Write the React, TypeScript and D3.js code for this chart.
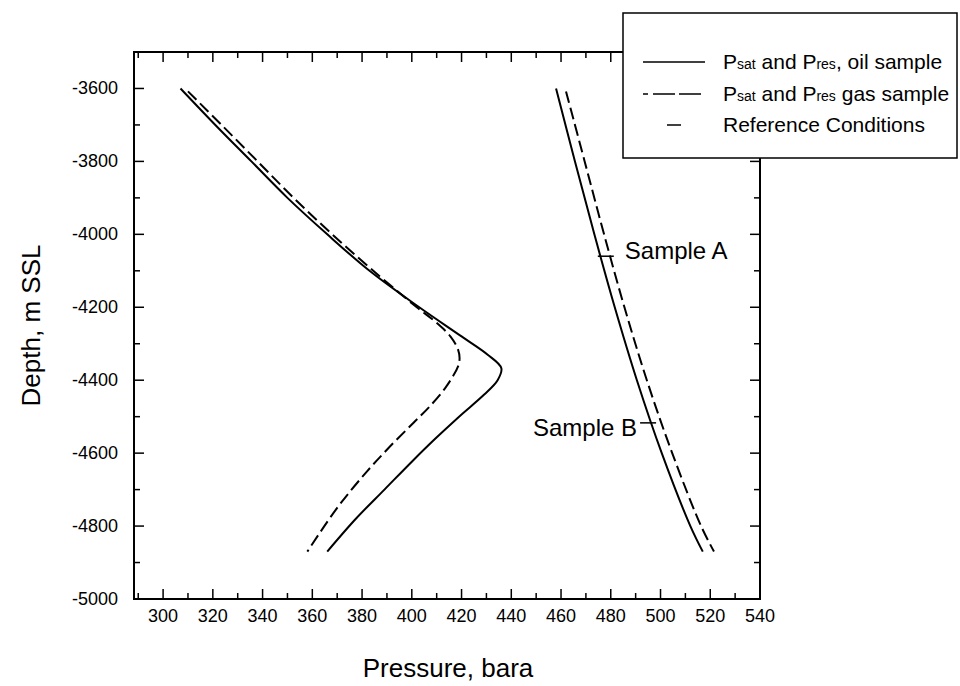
import React from "react";
import * as d3 from "d3";

// ---- Data ----
const oilSatDepth = [-3600, -3700, -3800, -3900, -4000, -4100, -4200, -4280, -4330, -4367, -4400, -4440, -4500, -4560, -4620, -4700, -4780, -4870];
const oilSatPressure = [307, 321, 335.5, 350, 366, 383, 403, 420, 430.5, 436, 434.5, 429, 419, 409.5, 400.5, 389, 377.5, 366];

const gasSatDepth = [-3608, -3700, -3800, -3900, -4000, -4100, -4200, -4240, -4280, -4316, -4340, -4362, -4417, -4472, -4518, -4582, -4650, -4750, -4870];
const gasSatPressure = [310, 323.5, 338, 352.5, 368, 384.5, 402, 409.5, 415.5, 418.6, 419.2, 418.6, 413.9, 407.2, 400.5, 391.2, 382, 370, 358];

const oilResDepth = [-3600, -3800, -4000, -4200, -4400, -4600, -4800, -4870];
const oilResPressure = [458, 465.6, 473.4, 481.6, 490.5, 500.5, 512, 517];

const gasResDepth = [-3608, -3800, -4000, -4200, -4400, -4600, -4800, -4870];
const gasResPressure = [462, 469.5, 477.3, 485.5, 494.5, 504.7, 516.3, 521.5];

const refNames = ["Sample A", "Sample B"];
const refPressure = [478, 495];
const refDepth = [-4060, -4517];

const xMajorTicks = [300, 320, 340, 360, 380, 400, 420, 440, 460, 480, 500, 520, 540];
const yMajorTicks = [-5000, -4800, -4600, -4400, -4200, -4000, -3800, -3600];

const W = 960, H = 686;
const L = 134, R = 760, T = 52, B = 599;
const FONT = "'Liberation Sans', Arial, Helvetica, sans-serif";

export default function App() {
  const x = d3.scaleLinear().domain([288.3, 540]).range([L, R]);
  const y = d3.scaleLinear().domain([-5000, -3500]).range([B, T]);

  const line = d3
    .line<[number, number]>()
    .x((d) => x(d[0]))
    .y((d) => y(d[1]))
    .curve(d3.curveCatmullRom.alpha(0.5));

  const zip = (p: number[], dd: number[]) => p.map((v, i) => [v, dd[i]] as [number, number]);

  const xMinor = d3.range(290, 540, 10).filter((v) => v % 20 !== 0);
  const yMinor = d3.range(-4900, -3499, 200);

  const majLen = 10, minLen = 6;

  return (
    <svg width={W} height={H} style={{ position: "absolute", left: 0, top: 0, background: "#fff" }} fontFamily={FONT}>
      <rect x={0} y={0} width={W} height={H} fill="#fff" />
      {/* frame */}
      <rect x={L} y={T} width={R - L} height={B - T} fill="none" stroke="#000" strokeWidth={2} />
      {/* x ticks */}
      {xMajorTicks.map((t) => (
        <g key={"xm" + t}>
          <line x1={x(t)} x2={x(t)} y1={B} y2={B - majLen} stroke="#000" strokeWidth={1.5} />
          <line x1={x(t)} x2={x(t)} y1={T} y2={T + majLen} stroke="#000" strokeWidth={1.5} />
          <text x={x(t)} y={622} fontSize={18} textAnchor="middle">{t}</text>
        </g>
      ))}
      {xMinor.map((t) => (
        <g key={"xn" + t}>
          <line x1={x(t)} x2={x(t)} y1={B} y2={B - minLen} stroke="#000" strokeWidth={1.5} />
          <line x1={x(t)} x2={x(t)} y1={T} y2={T + minLen} stroke="#000" strokeWidth={1.5} />
        </g>
      ))}
      {/* y ticks */}
      {yMajorTicks.map((t) => (
        <g key={"ym" + t}>
          <line x1={L} x2={L + majLen} y1={y(t)} y2={y(t)} stroke="#000" strokeWidth={1.5} />
          <line x1={R} x2={R - majLen} y1={y(t)} y2={y(t)} stroke="#000" strokeWidth={1.5} />
          <text x={118} y={y(t) + 6} fontSize={18} textAnchor="end">{t}</text>
        </g>
      ))}
      {yMinor.map((t) => (
        <g key={"yn" + t}>
          <line x1={L} x2={L + minLen} y1={y(t)} y2={y(t)} stroke="#000" strokeWidth={1.5} />
          <line x1={R} x2={R - minLen} y1={y(t)} y2={y(t)} stroke="#000" strokeWidth={1.5} />
        </g>
      ))}

      {/* curves */}
      <path d={line(zip(oilSatPressure, oilSatDepth)) || ""} fill="none" stroke="#000" strokeWidth={2} />
      <path d={line(zip(gasSatPressure, gasSatDepth)) || ""} fill="none" stroke="#000" strokeWidth={2} strokeDasharray="12,5" />
      <path d={line(zip(oilResPressure, oilResDepth)) || ""} fill="none" stroke="#000" strokeWidth={2} />
      <path d={line(zip(gasResPressure, gasResDepth)) || ""} fill="none" stroke="#000" strokeWidth={2} strokeDasharray="12,5" />

      {/* reference conditions */}
      {refNames.map((n, i) => {
        const cx = x(refPressure[i]);
        const cy = y(refDepth[i]);
        const half = 8;
        return (
          <g key={n}>
            <line x1={cx - half} x2={cx + half} y1={cy} y2={cy} stroke="#000" strokeWidth={1.5} />
            {i === 0 ? (
              <text x={cx + half + 11} y={cy + 3} fontSize={24}>{n}</text>
            ) : (
              <text x={cx - half - 3} y={cy + 13} fontSize={24} textAnchor="end">{n}</text>
            )}
          </g>
        );
      })}

      {/* legend */}
      <rect x={623} y={13} width={334} height={145} fill="#fff" stroke="#000" strokeWidth={1.5} />
      <line x1={643} x2={705} y1={62} y2={62} stroke="#000" strokeWidth={1.5} />
      <text x={723} y={69} fontSize={21}>
        P<tspan fontSize={14}>sat</tspan> and P<tspan fontSize={14}>res</tspan>, oil sample
      </text>
      <line x1={643} x2={705} y1={94} y2={94} stroke="#000" strokeWidth={1.5} strokeDasharray="5,5,22,4,22" />
      <text x={723} y={101} fontSize={21}>
        P<tspan fontSize={14}>sat</tspan> and P<tspan fontSize={14}>res</tspan> gas sample
      </text>
      <line x1={667} x2={681} y1={125} y2={125} stroke="#000" strokeWidth={1.5} />
      <text x={723} y={132} fontSize={21}>Reference Conditions</text>

      {/* axis titles */}
      <text x={448} y={677} fontSize={26} textAnchor="middle">Pressure, bara</text>
      <text transform={`translate(40,${(T + B) / 2}) rotate(-90)`} fontSize={26} textAnchor="middle">Depth, m SSL</text>
    </svg>
  );
}
